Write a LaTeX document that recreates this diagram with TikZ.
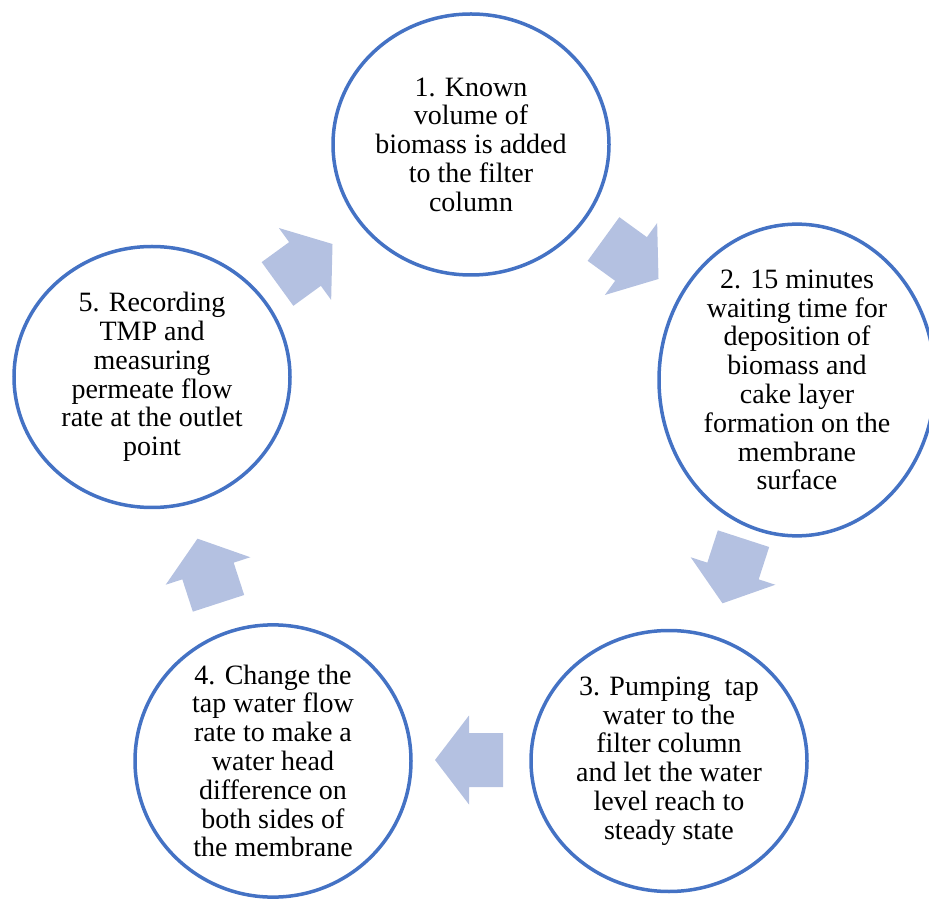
\documentclass[tikz,border=0pt]{standalone}
\usepackage{fontspec}
\setmainfont{Liberation Serif}
\usetikzlibrary{shapes.geometric}
\definecolor{ringblue}{HTML}{4472C4}
\definecolor{arrowfill}{HTML}{B4C1E1}
\begin{document}
\begin{tikzpicture}[x=1pt,y=1pt,
  stage/.style={ellipse, draw=ringblue, line width=3.5pt, fill=white,
    minimum width=276pt, minimum height=261pt, inner sep=0pt, align=center,
    font=\fontsize{28}{28.8}\selectfont},
  blockarrow/.pic={\fill[arrowfill] (-34,-27) -- (0,-27) -- (0,-44.5) -- (34,0) -- (0,44.5) -- (0,27) -- (-34,27) -- cycle;}
]
\useasboundingbox (0,0) rectangle (929,898);
\node[stage] (c1) at (471,753.5) {1. Known\\volume of\\biomass is added\\to the filter\\column};
\node[stage] (c2) at (797,518) {2. 15 minutes\\waiting time for\\deposition of\\biomass and\\cake layer\\formation on the\\membrane\\surface};
\node[stage] (c3) at (669,137) {3. Pumping\ \ tap\\water to the\\filter column\\and let the water\\level reach to\\steady state};
\node[stage] (c4) at (273,137) {4. Change the\\tap water flow\\rate to make a\\water head\\difference on\\both sides of\\the membrane};
\node[stage] (c5) at (152,521) {5. Recording\\TMP and\\measuring\\permeate flow\\rate at the outlet\\point};
\pic[rotate=-36] (a1) at (631,639) {blockarrow};
\pic[rotate=-108] (a2) at (733,327) {blockarrow};
\pic[rotate=180] (a3) at (469,138) {blockarrow};
\pic[rotate=108] (a4) at (208,327) {blockarrow};
\pic[rotate=36] (a5) at (305,634) {blockarrow};
\end{tikzpicture}
\end{document}
